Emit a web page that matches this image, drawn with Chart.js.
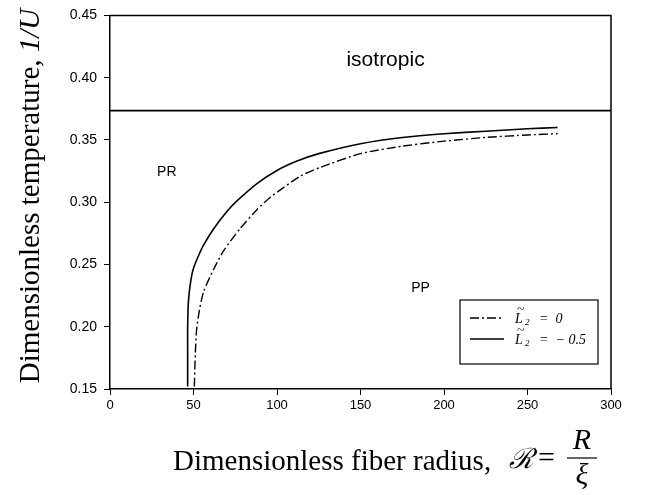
<!DOCTYPE html>
<html lang="en">
<head>
<meta charset="UTF-8">
<title>Fiber phase diagram</title>
<script src="https://cdn.jsdelivr.net/npm/chart.js"></script>
<style>
  html, body { margin: 0; padding: 0; background: #fff; }
  #wrap { width: 649px; height: 495px; position: relative; }
</style>
</head>
<body>
<div id="wrap"><canvas id="phase-chart"></canvas></div>
<script>
// curve for L2 = -0.5 (solid)
const radiusSolid = [46.5, 46.5, 46.5, 47, 48.5, 50, 53, 56, 62, 70, 76, 88, 100, 112, 125, 150, 175, 200, 225, 250, 268];
const tempSolid   = [0.152, 0.180, 0.200, 0.221, 0.238, 0.247, 0.257, 0.2655, 0.2785, 0.2925, 0.301, 0.315, 0.3255, 0.333, 0.339, 0.347, 0.352, 0.355, 0.357, 0.359, 0.360];

// curve for L2 = 0 (dash-dot)
const radiusDashDot = [50.5, 51, 51.8, 53.5, 56, 62, 68, 78, 88, 96, 114, 126, 150, 175, 200, 225, 250, 268];
const tempDashDot   = [0.152, 0.175, 0.197, 0.213, 0.228, 0.246, 0.261, 0.279, 0.294, 0.304, 0.321, 0.328, 0.339, 0.345, 0.349, 0.352, 0.354, 0.355];

// isotropic boundary
const radiusIso = [0, 300];
const tempIso   = [0.3735, 0.3735];

const xTicks = [0, 50, 100, 150, 200, 250, 300];
const yTicks = [0.15, 0.20, 0.25, 0.30, 0.35, 0.40, 0.45];

// region labels
const regionNames  = ['isotropic', 'PR', 'PP'];
const regionRadius = [165, 34, 186];
const regionTemp   = [0.414, 0.324, 0.231];

const toPoints = (xs, ys) => xs.map((x, i) => ({ x: x, y: ys[i] }));

const SERIF = '"Liberation Serif", "Times New Roman", serif';

// axis titles, region labels, frame and legend box
const decorPlugin = {
    id: 'decor',
    afterDraw(chart) {
        const ctx = chart.ctx;
        const area = chart.chartArea;
        const xs = chart.scales.x, ys = chart.scales.y;
        ctx.save();

        // frame top/right
        ctx.strokeStyle = '#000';
        ctx.lineWidth = 1.5;
        ctx.beginPath();
        ctx.moveTo(area.left, area.top);
        ctx.lineTo(area.right, area.top);
        ctx.lineTo(area.right, area.bottom);
        ctx.stroke();

        // region labels
        ctx.fillStyle = '#000';
        ctx.textAlign = 'center';
        ctx.textBaseline = 'middle';
        regionNames.forEach((name, i) => {
            ctx.font = (i === 0 ? '21px' : '14px') + ' "Liberation Sans", Arial, sans-serif';
            ctx.fillText(name, xs.getPixelForValue(regionRadius[i]), ys.getPixelForValue(regionTemp[i]));
        });

        // y axis title
        ctx.save();
        ctx.translate(31, 196);
        ctx.rotate(-Math.PI / 2);
        ctx.textAlign = 'left';
        ctx.textBaseline = 'middle';
        const yMain = 'Dimensionless temperature, ';
        ctx.font = '29px ' + SERIF;
        const w1 = ctx.measureText(yMain).width;
        ctx.font = 'italic 29px ' + SERIF;
        const w2 = ctx.measureText('1/U').width;
        const sx = -(w1 + w2) / 2;
        ctx.font = '29px ' + SERIF;
        ctx.fillText(yMain, sx, 0);
        ctx.font = 'italic 29px ' + SERIF;
        ctx.fillText('1/U', sx + w1, 0);
        ctx.restore();

        // x axis title
        ctx.textAlign = 'left';
        ctx.textBaseline = 'alphabetic';
        ctx.font = '29px ' + SERIF;
        const base = 470;
        ctx.fillText('Dimensionless fiber radius,', 173, base);
        ctx.font = 'italic 28px "DejaVu Serif", serif';
        ctx.fillText('\u211B', 509, base - 2);
        ctx.font = '30px ' + SERIF;
        ctx.fillText('=', 538, base - 3);
        ctx.font = 'italic 30px ' + SERIF;
        ctx.textAlign = 'center';
        ctx.fillText('R', 582, 449);
        ctx.fillText('\u03BE', 582, 484);
        ctx.lineWidth = 1.2;
        ctx.beginPath();
        ctx.moveTo(567, 458);
        ctx.lineTo(597, 458);
        ctx.stroke();

        // legend box
        const bx = 460, by = 300, bw = 138, bh = 64;
        ctx.lineWidth = 1.2;
        ctx.strokeRect(bx, by, bw, bh);
        const items = [
            { ds: chart.data.datasets[1], val: '=  0', y: 318 },
            { ds: chart.data.datasets[0], val: '=  \u2212 0.5', y: 339 }
        ];
        items.forEach(it => {
            ctx.strokeStyle = it.ds.borderColor;
            ctx.lineWidth = it.ds.borderWidth;
            ctx.setLineDash(it.ds.borderDash || []);
            ctx.beginPath();
            ctx.moveTo(470, it.y);
            ctx.lineTo(504, it.y);
            ctx.stroke();
            ctx.setLineDash([]);
            ctx.textAlign = 'left';
            ctx.textBaseline = 'middle';
            ctx.font = 'italic 14px ' + SERIF;
            ctx.fillText('L', 515, it.y + 1);
            ctx.font = 'italic 13px ' + SERIF;
            ctx.fillText('~', 517, it.y - 8);
            ctx.font = 'italic 9px ' + SERIF;
            ctx.fillText('2', 525, it.y + 5);
            ctx.font = 'italic 14px ' + SERIF;
            ctx.fillText(it.val, 539, it.y + 1);
        });

        ctx.restore();
    }
};

const ctx = document.getElementById('phase-chart').getContext('2d');
new Chart(ctx, {
    type: 'scatter',
    data: {
        datasets: [
            {
                label: 'L2 = -0.5',
                data: toPoints(radiusSolid, tempSolid),
                showLine: true,
                borderColor: '#000',
                borderWidth: 1.6,
                pointRadius: 0,
                tension: 0.2
            },
            {
                label: 'L2 = 0',
                data: toPoints(radiusDashDot, tempDashDot),
                showLine: true,
                borderColor: '#000',
                borderWidth: 1.4,
                borderDash: [9, 3, 2, 3],
                pointRadius: 0,
                tension: 0.2
            },
            {
                label: 'isotropic',
                data: toPoints(radiusIso, tempIso),
                showLine: true,
                borderColor: '#000',
                borderWidth: 1.6,
                pointRadius: 0
            }
        ]
    },
    options: {
        responsive: true,
        maintainAspectRatio: false,
        animation: false,
        layout: { padding: { top: 12, right: 38, left: 0, bottom: 0 } },
        plugins: {
            legend: { display: false },
            tooltip: { enabled: false }
        },
        scales: {
            x: {
                type: 'linear',
                min: 0,
                max: 300,
                afterBuildTicks: scale => { scale.ticks = xTicks.map(v => ({ value: v })); },
                afterFit: scale => { scale.height = 106; },
                grid: { display: true, drawOnChartArea: false, drawTicks: true, tickLength: 6, color: '#000' },
                border: { display: true, color: '#000', width: 1.5 },
                ticks: {
                    color: '#000',
                    padding: 3,
                    font: { family: '"Liberation Sans", Arial, sans-serif', size: 13 }
                }
            },
            y: {
                type: 'linear',
                min: 0.15,
                max: 0.45,
                afterBuildTicks: scale => { scale.ticks = yTicks.map(v => ({ value: v })); },
                afterFit: scale => { scale.width = 110; },
                grid: { display: true, drawOnChartArea: false, drawTicks: true, tickLength: 6, color: '#000' },
                border: { display: true, color: '#000', width: 1.5 },
                ticks: {
                    color: '#000',
                    padding: 7,
                    callback: v => v.toFixed(2),
                    font: { family: '"Liberation Sans", Arial, sans-serif', size: 14 }
                }
            }
        }
    },
    plugins: [decorPlugin]
});
</script>
</body>
</html>
